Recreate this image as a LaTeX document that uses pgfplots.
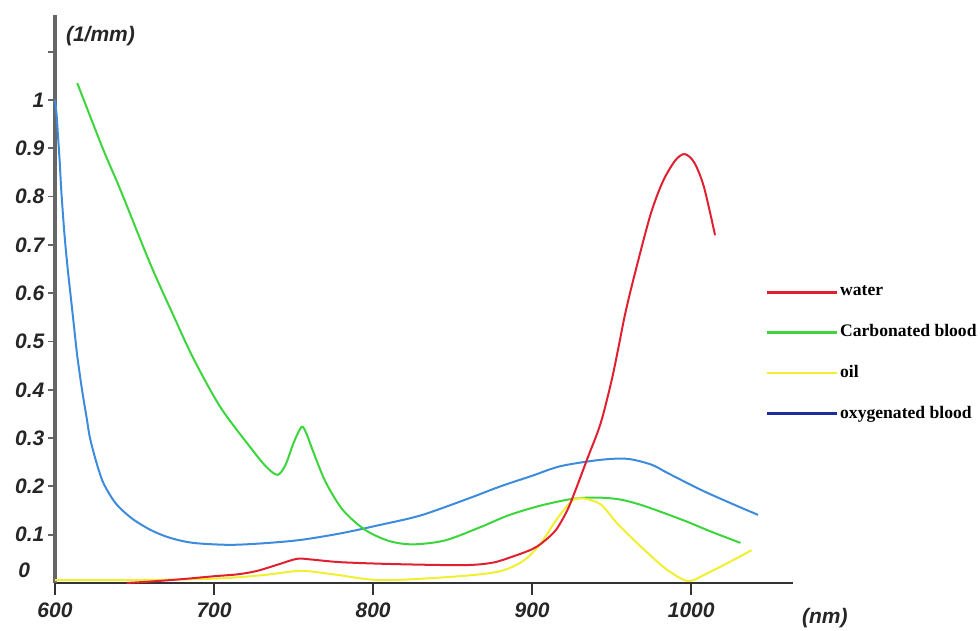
\documentclass[border=0pt]{standalone}
\usepackage{fontspec}
\setmainfont{Liberation Sans}
\newfontfamily\serifb{Liberation Serif}
\usepackage{pgfplots}
\pgfplotsset{compat=1.18}
\definecolor{cred}{HTML}{E02030}
\definecolor{cgreen}{HTML}{3CD63C}
\definecolor{cyellow}{HTML}{F0F030}
\definecolor{cblue}{HTML}{3D8BDD}
\definecolor{cnavy}{HTML}{1C2C9C}
\begin{document}
\begin{tikzpicture}
\begin{axis}[
  scale only axis,
  width=369pt, height=284pt,
  xmin=600, xmax=1064, ymin=0, ymax=1.176,
  axis lines=left,
  axis line style={-},
  x axis line style={draw=black!80, line width=1.1pt},
  y axis line style={draw=black!60, line width=1.6pt},
  xtick={600,700,800,900,1000},
  ytick={0.1,0.2,0.3,0.4,0.5,0.6,0.7,0.8,0.9,1,1.1},
  yticklabels={0.1,0.2,0.3,0.4,0.5,0.6,0.7,0.8,0.9,1,{}},
  tick align=outside,
  xtick style={draw=black!80, line width=0.9pt, /pgfplots/major tick length=6pt},
  ytick style={draw=black!60, line width=0.9pt, /pgfplots/major tick length=3.5pt},
  /pgf/number format/assume math mode=true,
  /pgf/number format/1000 sep={},
  ticklabel style={font=\fontsize{10.5}{12}\selectfont\bfseries\itshape, text=black!85},
  xticklabel style={yshift=-2pt},
  yticklabel style={xshift=2.5pt},
  legend style={at={(0.962,0.527)}, anchor=north west, draw=none, fill=none,
    font=\serifb\bfseries\fontsize{8.8}{10}\selectfont, inner sep=0pt,
    row sep=10.8pt, nodes={inner sep=1pt}},
  legend cell align=left,
  legend image code/.code={\draw[#1] (0pt,0pt) -- (35pt,0pt);},
  clip=false,
]
\addlegendimage{cred, line width=1.4pt}
\addlegendentry{water}
\addlegendimage{cgreen, line width=1.4pt}
\addlegendentry{Carbonated blood}
\addlegendimage{cyellow, line width=1.4pt}
\addlegendentry{oil}
\addlegendimage{cnavy, line width=1.4pt}
\addlegendentry{oxygenated blood}

% oxygenated blood
\addplot[cblue, line width=1pt, smooth, tension=0.5, forget plot] coordinates {
(600,1.0)(601,0.97)(602,0.92)(603,0.87)(604,0.81)(606,0.72)(608,0.65)(610,0.59)
(612,0.53)(614,0.47)(617,0.40)(620,0.34)(622,0.30)(626,0.25)(630,0.21)(635,0.18)
(640,0.158)(649,0.132)(660,0.11)(670,0.096)(680,0.087)(690,0.082)(710,0.079)(730,0.082)
(754,0.089)(780,0.103)(804,0.12)(830,0.14)(860,0.175)(880,0.2)(900,0.222)
(918,0.242)(943,0.255)(960,0.257)(975,0.245)(985,0.228)(1006,0.193)(1025,0.165)(1042,0.141)};

% carbonated blood
\addplot[cgreen, line width=1pt, smooth, tension=0.5, forget plot] coordinates {
(614,1.035)(630,0.9)(641,0.815)(660,0.66)(675,0.55)(687,0.465)(704,0.364)(723,0.28)
(733,0.24)(740,0.224)(745,0.245)(750,0.29)(755,0.323)(758,0.31)(762,0.275)(770,0.21)
(781,0.151)(795,0.11)(810,0.087)(825,0.08)(845,0.088)(867,0.115)(885,0.14)(905,0.16)
(925,0.174)(940,0.177)(955,0.173)(970,0.16)(995,0.13)(1012,0.107)(1031,0.083)};

% oil
\addplot[cyellow, line width=1pt, smooth, tension=0.5, forget plot] coordinates {
(600,0.006)(650,0.006)(700,0.009)(730,0.016)(754,0.025)(775,0.018)(804,0.006)
(846,0.012)(878,0.023)(894,0.045)(905,0.08)(915,0.13)(925,0.17)(932,0.175)(943,0.163)
(953,0.125)(964,0.089)(975,0.055)(985,0.027)(998,0.004)(1010,0.02)(1025,0.045)(1038,0.068)};

% water
\addplot[cred, line width=1pt, smooth, tension=0.5, forget plot] coordinates {
(645,0.0)(660,0.003)(680,0.008)(700,0.014)(715,0.018)(727,0.025)(740,0.038)(752,0.05)
(760,0.049)(780,0.043)(815,0.039)(857,0.037)(875,0.042)(888,0.055)(900,0.07)(907,0.085)
(915,0.11)(922,0.15)(927,0.19)(935,0.26)(943,0.33)(950,0.42)(955,0.5)(958,0.55)
(963,0.62)(974,0.758)(982,0.83)(990,0.875)(996,0.888)(1002,0.87)(1008,0.82)(1015,0.72)};

\node[anchor=east, font=\fontsize{10.5}{12}\selectfont\bfseries\itshape, text=black!85]
  at ([xshift=-9pt, yshift=6.5pt]rel axis cs:0,0) {0};
\node[anchor=north west, font=\fontsize{10.5}{12}\selectfont\bfseries\itshape, text=black!85]
  at ([xshift=2pt, yshift=-2pt]rel axis cs:0,1) {(1/mm)};
\node[anchor=north west, font=\fontsize{10.5}{12}\selectfont\bfseries\itshape, text=black!85]
  at ([xshift=1pt, yshift=-9pt]rel axis cs:1,0) {(nm)};
\end{axis}
\pgfresetboundingbox
\path ([shift={(-27.5pt,-24pt)}]current axis.south west) rectangle ([shift={(93.5pt,7.5pt)}]current axis.north east);
\end{tikzpicture}
\end{document}
